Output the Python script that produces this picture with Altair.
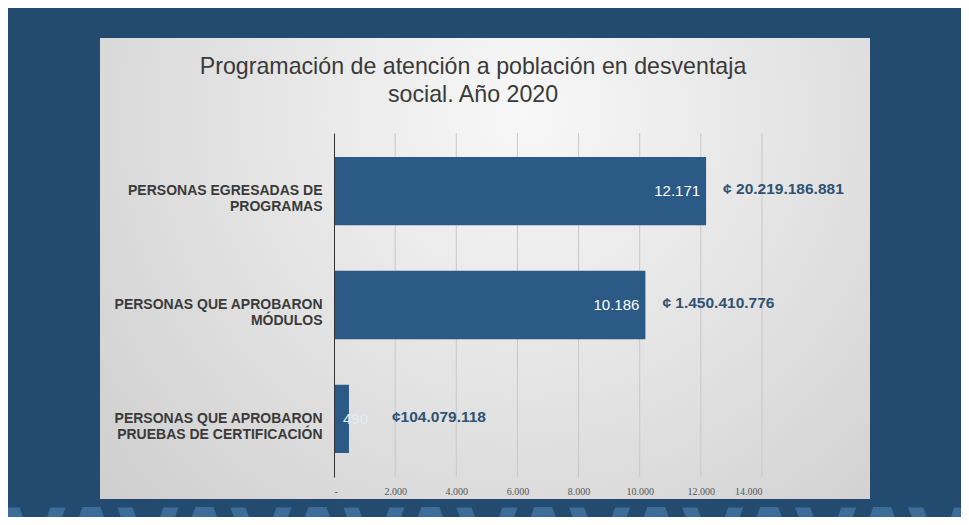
import altair as alt
import pandas as pd

categorias = [
    "PERSONAS EGRESADAS DE|PROGRAMAS",
    "PERSONAS QUE APROBARON|MÓDULOS",
    "PERSONAS QUE APROBARON|PRUEBAS DE CERTIFICACIÓN",
]
personas = [12171, 10186, 490]
montos = ["¢ 20.219.186.881", "¢ 1.450.410.776", "¢104.079.118"]
ticks = [0, 2000, 4000, 6000, 8000, 10000, 12000, 14000]
titulo = ["Programación de atención a población en desventaja", "social. Año 2020"]

W, H = 428, 344
BAR = "#2c5a87"
BG = "#234a6f"

df = pd.DataFrame({"cat": categorias, "n": personas, "monto": montos})
grid_df = pd.DataFrame({"t": ticks[1:]})
one = pd.DataFrame({"a": [0]})

x_scale = alt.Scale(domain=[0, 14000], nice=False)
x_axis = alt.Axis(
    title=None, values=ticks, grid=False, domain=False, ticks=False,
    labelExpr="datum.value == 0 ? '-' : replace(format(datum.value, ','), ',', '.')",
    labelFont="Liberation Serif", labelFontSize=10, labelColor="#555555",
    labelPadding=9, zindex=1,
)
y_axis = alt.Axis(
    title=None, labelExpr="split(datum.label, '|')",
    labelFont="Liberation Sans", labelFontWeight="bold", labelFontSize=14,
    labelColor="#3a3a3a", labelLineHeight=16, labelPadding=12, labelLimit=400,
    ticks=False, domainColor="#333333", domainWidth=1, zindex=1,
)
x_enc = alt.X("n:Q", scale=x_scale, axis=x_axis)
y_enc = alt.Y("cat:N", sort=categorias,
              scale=alt.Scale(paddingInner=0.4, paddingOuter=0.21), axis=y_axis)

panel = alt.Chart(one).mark_rect(
    fill={
        "gradient": "radial", "x1": 0.55, "y1": 0.3, "r1": 0,
        "x2": 0.55, "y2": 0.3, "r2": 0.8,
        "stops": [{"offset": 0, "color": "#f8f8f8"}, {"offset": 1, "color": "#cbcbcb"}],
    }
).encode(x=alt.value(-234), x2=alt.value(536), y=alt.value(-95), y2=alt.value(366))

chev = alt.Chart(one).mark_text(
    text="VA" * 10, font="DejaVu Sans", fontWeight="bold", fontSize=80,
    color="#3d6c98", align="left", baseline="top",
).encode(x=alt.value(-330), y=alt.value(370))

title = alt.Chart(one).mark_text(
    text=titulo, font="Liberation Sans", fontSize=23.2, color="#3a3a3a",
    lineHeight=28, align="center", baseline="alphabetic",
).encode(x=alt.value(139), y=alt.value(-59))

grid = alt.Chart(grid_df).mark_rule(color="#c8c8c8", strokeWidth=1).encode(
    x=alt.X("t:Q", scale=x_scale, axis=x_axis), y=alt.value(0), y2=alt.value(H)
)

base = alt.Chart(df).transform_calculate(
    lab="replace(format(datum.n, ','), ',', '.')"
)
bars = base.mark_bar(color=BAR).encode(x=x_enc, y=y_enc)

big = base.transform_filter("datum.n >= 2000")
small = base.transform_filter("datum.n < 2000")

in_big = big.mark_text(align="right", dx=-6, color="white", fontSize=15,
                       font="Liberation Sans").encode(x=x_enc, y=y_enc, text="lab:N")
in_small = small.mark_text(align="left", dx=-6, color="#e6ecf3", fontSize=15,
                           font="Liberation Sans").encode(x=x_enc, y=y_enc, text="lab:N")
m_big = big.mark_text(align="left", dx=17, dy=-2, color="#2f5275", fontSize=15.5,
                      fontWeight="bold", font="Liberation Sans").encode(x=x_enc, y=y_enc, text="monto:N")
m_small = small.mark_text(align="left", dx=43, dy=-2, color="#2f5275", fontSize=15.5,
                          fontWeight="bold", font="Liberation Sans").encode(x=x_enc, y=y_enc, text="monto:N")

chart = alt.layer(panel, chev, title, grid, bars, in_big, in_small, m_big, m_small).properties(
    width=W, height=H,
    padding={"left": 326, "top": 125, "right": 199, "bottom": 40},
    autosize=alt.AutoSizeParams(type="none"),
).configure(background=BG).configure_view(stroke=None)

chart.save("out.html", embed_options={"renderer": "svg", "actions": False})
